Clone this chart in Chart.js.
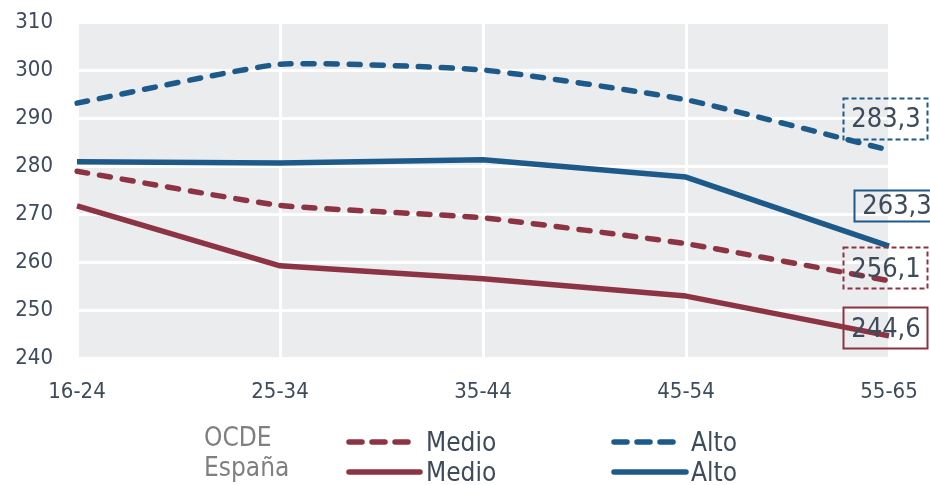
<!DOCTYPE html>
<html lang="es">
<head>
<meta charset="utf-8">
<title>Puntuación por edad y nivel educativo</title>
<script src="https://cdn.jsdelivr.net/npm/chart.js@4.4.1/dist/chart.umd.min.js"></script>
<style>
  html, body { margin: 0; padding: 0; background: #ffffff; }
  #wrap { position: relative; width: 930px; height: 485px; overflow: hidden; }
  #chart { position: absolute; left: 0; top: 0; }
  .lg { position: absolute; font-family: 'DejaVu Sans Condensed', 'DejaVu Sans', sans-serif;
        font-stretch: condensed; font-size: 26px; line-height: 30px; white-space: nowrap; }
  .grp { color: #7f7f7f; }
  .itm { color: #3e4b5b; }
  svg.sw { position: absolute; overflow: visible; }
</style>
</head>
<body>
<div id="wrap">
  <canvas id="chart" width="930" height="485"></canvas>
</div>
<script>
// Age groups on the x axis
const categories = ['16-24', '25-34', '35-44', '45-54', '55-65'];

// Mean scores by education level (OCDE average and España)
const ocdeMedio   = [278.9, 271.8, 269.2, 263.8, 256.1];
const ocdeAlto    = [293.1, 301.2, 300.0, 293.8, 283.3];
const espanaMedio = [271.7, 259.2, 256.5, 252.9, 244.6];
const espanaAlto  = [280.9, 280.6, 281.3, 277.7, 263.3];

// Value axis range
const yMin = 240;
const yMax = 310;
const yStep = 10;

// Legend groups
const groupNames = ['OCDE', 'España'];

const BLUE = '#1d5a89';
const RED = '#8c3443';
const TEXT = '#3e4b5b';
const FONT = "'DejaVu Sans Condensed', 'DejaVu Sans', sans-serif";

const DASH = [11, 12];

function series(label, data, color, dashed, box) {
  return {
    label: label,
    data: data,
    borderColor: color,
    backgroundColor: color,
    borderWidth: 5.5,
    borderDash: dashed ? DASH : [],
    borderCapStyle: dashed ? 'round' : 'butt',
    borderJoinStyle: 'round',
    tension: dashed ? 0.15 : 0,
    pointRadius: 0,
    pointHoverRadius: 0,
    fill: false,
    endBox: box
  };
}

// OCDE series are dashed, España series are solid
const datasets = [
  series('Medio', ocdeMedio, RED, true,    { dx: -4, dy: -13, w: 84, h: 41 }),
  series('Alto', ocdeAlto, BLUE, true,     { dx: -4, dy: -32, w: 84, h: 41 }),
  series('Medio', espanaMedio, RED, false, { dx: -4, dy: -8, w: 84, h: 41 }),
  series('Alto', espanaAlto, BLUE, false,  { dx: 7, dy: -41, w: 84, h: 31 })
];
// draw solid lines above dashed ones
datasets[0].order = 4; datasets[1].order = 3; datasets[2].order = 2; datasets[3].order = 1;

// grey plotting area
const plotBackground = {
  id: 'plotBackground',
  beforeDraw(chart) {
    const a = chart.chartArea, ctx = chart.ctx;
    ctx.save();
    ctx.fillStyle = '#ebecee';
    ctx.fillRect(a.left, a.top, a.right - a.left, a.bottom - a.top);
    ctx.restore();
  }
};

// framed value of the last point of each series
const endLabels = {
  id: 'endLabels',
  afterDatasetsDraw(chart) {
    const ctx = chart.ctx;
    chart.data.datasets.forEach((ds, i) => {
      const meta = chart.getDatasetMeta(i);
      const last = meta.data[meta.data.length - 1];
      const v = ds.data[ds.data.length - 1];
      const b = ds.endBox;
      const cx = last.x + b.dx, cy = last.y + b.dy;
      ctx.save();
      ctx.strokeStyle = ds.borderColor;
      ctx.lineWidth = 2;
      ctx.setLineDash(ds.borderDash.length ? [5, 3] : []);
      ctx.strokeRect(Math.round(cx - b.w / 2) + 0.5, Math.round(cy - b.h / 2) + 0.5, b.w, b.h);
      ctx.setLineDash([]);
      ctx.fillStyle = TEXT;
      ctx.font = '27px ' + FONT;
      ctx.textAlign = 'center';
      ctx.textBaseline = 'middle';
      ctx.fillText(v.toFixed(1).replace('.', ','), cx + 1, cy + 2);
      ctx.restore();
    });
  }
};

// tick labels are pushed away from the plot with invisible tick marks,
// so the label gap does not add to the layout padding
const chart = new Chart(document.getElementById('chart'), {
  type: 'line',
  data: { labels: categories, datasets: datasets },
  options: {
    responsive: false,
    animation: false,
    devicePixelRatio: 1,
    layout: { padding: { top: 22, right: 41, bottom: 0, left: 0 } },
    plugins: {
      legend: { display: false },
      tooltip: { enabled: false }
    },
    scales: {
      x: {
        offset: false,
        grid: { color: '#ffffff', lineWidth: 3, drawTicks: true, tickLength: 21, tickColor: 'rgba(0,0,0,0)' },
        border: { display: false },
        ticks: { color: TEXT, font: { family: FONT, size: 22 }, padding: 0, maxRotation: 0 },
        afterFit(s) { s.height = 127; }
      },
      y: {
        min: yMin,
        max: yMax,
        grid: { color: '#ffffff', lineWidth: 3, drawTicks: true, tickLength: 24, tickColor: 'rgba(0,0,0,0)' },
        border: { display: false },
        ticks: { stepSize: yStep, color: TEXT, font: { family: FONT, size: 22 }, padding: 0 },
        afterFit(s) { s.width = 77; }
      }
    }
  },
  plugins: [plotBackground, endLabels]
});

// legend: one row per group, items laid out in columns
(function buildLegend() {
  const wrap = document.getElementById('wrap');
  const rowsY = [442, 472];
  const groupY = [437, 467];
  const colX = [349, 614];
  const sampleLen = [[64, 71], [64, 72]];
  groupNames.forEach((g, r) => {
    const el = document.createElement('div');
    el.className = 'lg grp';
    el.textContent = g;
    el.style.left = '204px';
    el.style.top = (groupY[r] - 15) + 'px';
    wrap.appendChild(el);
  });
  datasets.forEach((ds, i) => {
    const row = i < 2 ? 0 : 1;
    const col = i % 2;
    const x0 = colX[col];
    const len = sampleLen[col][row];
    const y = rowsY[row];
    const ns = 'http://www.w3.org/2000/svg';
    const svg = document.createElementNS(ns, 'svg');
    svg.setAttribute('class', 'sw');
    svg.setAttribute('width', len + 6);
    svg.setAttribute('height', 12);
    svg.style.left = (x0 - 3) + 'px';
    svg.style.top = (y - 6) + 'px';
    const ln = document.createElementNS(ns, 'line');
    ln.setAttribute('x1', 3);
    ln.setAttribute('x2', 3 + len);
    ln.setAttribute('y1', 6);
    ln.setAttribute('y2', 6);
    ln.setAttribute('stroke', ds.borderColor);
    ln.setAttribute('stroke-width', 5.5);
    ln.setAttribute('stroke-linecap', 'round');
    if (ds.borderDash.length) ln.setAttribute('stroke-dasharray', '13 10');
    svg.appendChild(ln);
    wrap.appendChild(svg);
    const t = document.createElement('div');
    t.className = 'lg itm';
    t.textContent = ds.label;
    t.style.left = (col === 0 ? 426 : 691) + 'px';
    t.style.top = (y - 15) + 'px';
    wrap.appendChild(t);
  });
})();
</script>
</body>
</html>
